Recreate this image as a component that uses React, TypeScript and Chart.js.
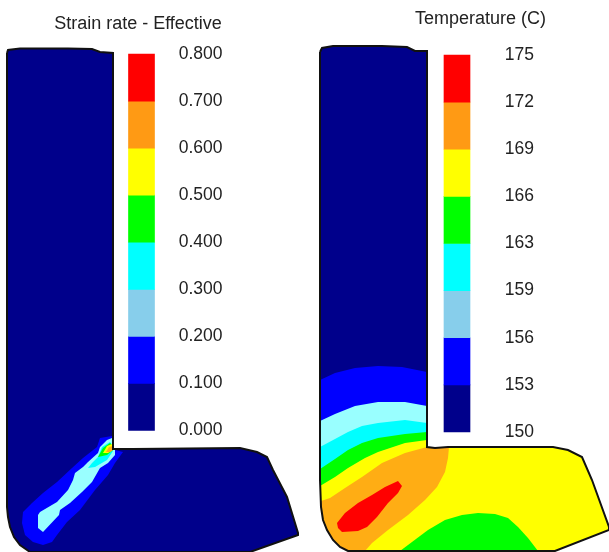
import React, { useEffect, useRef } from "react";
import { Chart, registerables } from "chart.js";

Chart.register(...registerables);

type Pt = [number, number];

// Legend levels
const strainLevels = [0, 0.1, 0.2, 0.3, 0.4, 0.5, 0.6, 0.7, 0.8];
const strainLabels = ["0.000", "0.100", "0.200", "0.300", "0.400", "0.500", "0.600", "0.700", "0.800"];
const tempLevels = [150, 153.125, 156.25, 159.375, 162.5, 165.625, 168.75, 171.875, 175];
const tempLabels = ["150", "153", "156", "159", "163", "166", "169", "172", "175"];
const legendColors = ["#00008b", "#0000ff", "#87ceeb", "#00ffff", "#00ff00", "#ffff00", "#ff9a14", "#ff0000"];

const NAVY = "#00008b", BLUE = "#0000ff", PALE = "#99ffff", CYAN = "#00ffff", GREEN = "#00ff00", YELLOW = "#ffff00", ORANGE = "#ffad14", RED = "#ff0000";

// Left part: specimen outline
const strainOutline: Pt[] = [[7, 53], [8, 50], [20, 48.5], [68, 48.5], [92, 49], [100, 52], [113, 53], [113, 449], [133, 449], [240, 448], [257, 452], [267, 457], [273, 470], [287, 497], [298, 533], [298, 535], [250, 552], [30, 552], [20, 545], [14, 537], [10, 527], [8, 517], [7, 507]];
// Left part: strain-rate contour bands
const strainBlue: Pt[] = [[112, 436], [100, 438], [97, 447], [83, 458], [72, 468], [57, 482], [43, 493], [32, 503], [23, 512], [22, 523], [25, 535], [33, 542], [43, 545], [52, 542], [57, 535], [67, 522], [80, 510], [95, 490], [108, 475], [115, 463], [123, 452], [115, 450], [113, 449]];
const strainPale: Pt[] = [[112, 438], [107, 440], [100, 447], [98, 453], [88, 462], [83, 467], [75, 473], [73, 480], [68, 490], [57, 502], [40, 512], [38, 515], [38, 528], [43, 532], [59, 515], [60, 510], [70, 503], [82, 492], [92, 482], [100, 468], [108, 463], [115, 455], [115, 450], [113, 449]];
const strainCyan: Pt[] = [[88, 468], [92, 463], [98, 457], [102, 447], [110, 442], [113, 446], [113, 451], [107, 460], [95, 467]];
const strainGreen: Pt[] = [[98, 457], [103, 448], [110, 443], [113, 446], [113, 450], [107, 455]];
const strainYellow: Pt[] = [[103, 453], [107, 446], [112, 444], [113, 450], [108, 453]];
const strainOrange: Pt[] = [[106, 452], [109, 447], [113, 446], [113, 450], [110, 452]];

// Right part: specimen outline
const tempOutline: Pt[] = [[320, 52], [322, 48], [333, 46], [382, 46], [407, 47], [415, 51], [427, 51], [427, 447], [435, 448], [448, 447], [553, 447], [568, 450], [582, 457], [592, 480], [609, 527], [609, 530], [555, 551], [348, 551], [340, 547], [333, 540], [327, 530], [323, 520], [321, 507], [320, 480]];
const tempLower: Pt[] = [[427, 447], [435, 448], [448, 447], [553, 447], [568, 450], [582, 457], [592, 480], [609, 527], [609, 530], [555, 551], [348, 551], [340, 547], [333, 540], [327, 530], [323, 520], [321, 507]];
// Right part: temperature isotherm boundaries, left to right
const tempBlueEdge: Pt[] = [[320, 380], [335, 373], [355, 368], [378, 366], [402, 367], [427, 372]];
const tempPaleEdge: Pt[] = [[320, 421], [335, 414], [355, 406], [378, 402], [405, 402], [427, 406]];
const tempCyanEdge: Pt[] = [[320, 447], [335, 439], [348, 432], [362, 426], [378, 423], [405, 420], [427, 423]];
const tempGreenEdge: Pt[] = [[320, 469], [335, 459], [348, 450], [362, 443], [378, 438], [405, 434], [427, 432]];
const tempYellowEdge: Pt[] = [[320, 486], [335, 477], [348, 468], [365, 458], [378, 452], [405, 443], [427, 440]];
const tempOrange: Pt[] = [[321, 501], [330, 498], [345, 488], [362, 477], [382, 463], [405, 453], [427, 447], [435, 448], [449, 447], [448, 458], [445, 472], [437, 487], [425, 500], [408, 515], [388, 530], [372, 543], [365, 551], [348, 551], [340, 547], [333, 540], [327, 530], [323, 520], [321, 507]];
const tempRed: Pt[] = [[337, 523], [345, 513], [358, 503], [372, 495], [385, 487], [398, 481], [402, 486], [398, 493], [388, 503], [377, 517], [367, 527], [358, 531], [342, 532], [338, 528]];
const tempGreenBottom: Pt[] = [[400, 551], [412, 542], [428, 530], [445, 520], [462, 515], [478, 513], [495, 514], [508, 518], [518, 527], [528, 538], [538, 551]];

const titles = [
  { text: "Strain rate - Effective", x: 138, y: 24 },
  { text: "Temperature (C)", x: 480.5, y: 19 },
];

const WIDTH = 609;
const HEIGHT = 552;
const FONT = "'Liberation Sans', Arial, sans-serif";

const xyz = (p: Pt[]) => [...p, p[0]].map(([x, y]) => ({ x, y }));

// Extends a legend's value range so that it spans the whole canvas height.
function valueRange(lo: number, hi: number, pxLo: number, pxHi: number) {
  const perUnit = (pxLo - pxHi) / (hi - lo);
  return { min: lo - (HEIGHT - pxLo) / perUnit, max: hi + pxHi / perUnit };
}

const titlePlugin = {
  id: "panelTitles",
  afterDraw(chart: any) {
    const { ctx } = chart;
    ctx.save();
    ctx.font = `18px ${FONT}`;
    ctx.fillStyle = "#222";
    ctx.textAlign = "center";
    ctx.textBaseline = "middle";
    titles.forEach((t) => ctx.fillText(t.text, t.x, t.y));
    ctx.restore();
  },
};

export default function App() {
  const ref = useRef<HTMLCanvasElement>(null);
  useEffect(() => {
    const area = (data: Pt[], color: string) => ({
      data: xyz(data),
      showLine: true,
      fill: "shape",
      backgroundColor: color,
      borderColor: color,
      borderWidth: 0,
      pointRadius: 0,
      tension: 0,
      clip: false,
      xAxisID: "x",
      yAxisID: "y",
    });
    const outline = (data: Pt[]) => ({
      data: xyz(data),
      showLine: true,
      fill: false,
      borderColor: "#111",
      borderWidth: 2,
      pointRadius: 0,
      tension: 0,
      clip: false,
      xAxisID: "x",
      yAxisID: "y",
    });
    const legend = (levels: number[], x: number, axis: string) => ({
      type: "bar",
      data: legendColors.map((_, i) => ({ x, y: [levels[i], levels[i + 1]] })),
      backgroundColor: legendColors,
      barThickness: 26,
      grouped: false,
      xAxisID: "x",
      yAxisID: axis,
    });
    const band = (edge: Pt[], color: string) => area([...edge, ...tempLower], color);
    const layers: any[] = [
      area(strainOutline, NAVY),
      area(strainBlue, BLUE),
      area(strainPale, PALE),
      area(strainCyan, CYAN),
      area(strainGreen, GREEN),
      area(strainYellow, YELLOW),
      area(strainOrange, ORANGE),
      outline(strainOutline),
      area(tempOutline, NAVY),
      band(tempBlueEdge, BLUE),
      band(tempPaleEdge, PALE),
      band(tempCyanEdge, CYAN),
      band(tempGreenEdge, GREEN),
      band(tempYellowEdge, YELLOW),
      area(tempOrange, ORANGE),
      area(tempRed, RED),
      area(tempGreenBottom, GREEN),
      outline(tempOutline),
      legend(strainLevels, 141.5, "strain"),
      legend(tempLevels, 457, "temp"),
    ];
    layers.forEach((d, i) => (d.order = layers.length - i));

    const valueAxis = (levels: number[], labels: string[], range: { min: number; max: number }, x: number) => ({
      type: "linear",
      ...range,
      position: { x },
      border: { display: false },
      grid: { display: false, drawTicks: false },
      afterBuildTicks: (scale: any) => {
        scale.ticks = levels.map((value) => ({ value }));
      },
      afterFit: (scale: any) => {
        scale.width = 0;
        scale.paddingLeft = scale.paddingRight = scale.paddingTop = scale.paddingBottom = 0;
      },
      ticks: {
        autoSkip: false,
        maxRotation: 0,
        padding: 0,
        color: "#222",
        font: { family: FONT, size: 17.5 },
        callback: (v: number) => labels[levels.indexOf(v)],
      },
    });

    const chart = new Chart(ref.current!, {
      type: "scatter",
      data: { datasets: layers },
      plugins: [titlePlugin],
      options: {
        animation: false,
        responsive: false,
        layout: { padding: 0, autoPadding: false },
        plugins: { legend: { display: false }, tooltip: { enabled: false }, title: { display: false } },
        scales: {
          x: { type: "linear", min: 0, max: WIDTH, display: false, offset: false, grid: { offset: false } },
          y: { type: "linear", min: 0, max: HEIGHT, reverse: true, display: false },
          strain: valueAxis(strainLevels, strainLabels, valueRange(0, 0.8, 430.5, 54), 222.5),
          temp: valueAxis(tempLevels, tempLabels, valueRange(150, 175, 432, 55), 534),
        },
      },
    } as any);
    return () => chart.destroy();
  }, []);
  return (
    <div style={{ position: "fixed", left: 0, top: 0, background: "#fff" }}>
      <canvas ref={ref} width={WIDTH} height={HEIGHT} style={{ display: "block" }} />
    </div>
  );
}
